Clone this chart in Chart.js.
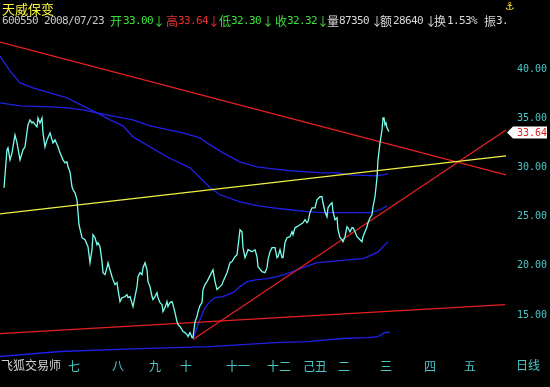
<!DOCTYPE html>
<html>
<head>
<meta charset="utf-8">
<script src="https://cdn.jsdelivr.net/npm/chart.js@4.4.1/dist/chart.umd.min.js"></script>
<style>
  body { margin: 0; background: #000; overflow: hidden; }
  #wrap { position: relative; width: 550px; height: 387px; }
  canvas { display: block; }
  .t { position: absolute; white-space: pre; line-height: 12px; font-size: 12px; font-family: 'Noto Sans CJK SC', sans-serif; }
  .n { font-family: 'DejaVu Sans Mono', monospace; font-size: 11px; letter-spacing: -0.62px; }
</style>
</head>
<body>
<div id="wrap">
  <canvas id="kChart" width="550" height="387"></canvas>
  <span class="t" style="left:2px;top:2px;font-size:13px;line-height:13px;color:#ffff40">天威保变</span>
  <span class="t n" style="left:2px;top:15px;color:#c8c8c8">600550 2008/07/23</span>
  <span class="t" style="left:110px;top:15px;color:#3ce03c">开</span>
  <span class="t n" style="left:123px;top:15px;color:#3ce03c">33.00</span>
  <span class="t" style="left:153px;top:15px;color:#3ce03c">↓</span>
  <span class="t" style="left:166px;top:15px;color:#e83030">高</span>
  <span class="t n" style="left:178px;top:15px;color:#e83030">33.64</span>
  <span class="t" style="left:208px;top:15px;color:#e83030">↓</span>
  <span class="t" style="left:219px;top:15px;color:#3ce03c">低</span>
  <span class="t n" style="left:231px;top:15px;color:#3ce03c">32.30</span>
  <span class="t" style="left:262px;top:15px;color:#3ce03c">↓</span>
  <span class="t" style="left:275px;top:15px;color:#3ce03c">收</span>
  <span class="t n" style="left:287px;top:15px;color:#3ce03c">32.32</span>
  <span class="t" style="left:317px;top:15px;color:#3ce03c">↓</span>
  <span class="t" style="left:327px;top:15px;color:#d8d8d8">量</span>
  <span class="t n" style="left:339px;top:15px;color:#d8d8d8">87350</span>
  <span class="t" style="left:371px;top:15px;color:#d8d8d8">↓</span>
  <span class="t" style="left:380px;top:15px;color:#d8d8d8">额</span>
  <span class="t n" style="left:393px;top:15px;color:#d8d8d8">28640</span>
  <span class="t" style="left:425px;top:15px;color:#d8d8d8">↓</span>
  <span class="t" style="left:434px;top:15px;color:#d8d8d8">换</span>
  <span class="t n" style="left:447px;top:15px;color:#d8d8d8">1.53%</span>
  <span class="t" style="left:484px;top:15px;color:#d8d8d8">振</span>
  <span class="t n" style="left:496px;top:15px;color:#d8d8d8">3.</span>
  <span class="t" style="left:505px;top:1px;font-size:11px;color:#ffe020;font-family:'DejaVu Sans',sans-serif">⚓</span>
  <span class="t" style="left:1px;top:359px;color:#d0d0d0">飞狐交易师</span>
  <span class="t" style="left:516px;top:359px;color:#48c8c8">日线</span>
</div>
<script>
// bar positions and closing prices
var closeX = [4,7,8,10,12,15,17,20,23,25,27,28,30,32,33,37,38,40,42,43,45,47,50,53,55,58,60,63,65,67,68,70,72,73,75,77,79,82,85,88,90,92,93,95,97,98,100,102,103,105,107,108,110,112,113,115,117,118,120,122,125,127,128,130,133,135,137,138,140,142,143,145,147,148,150,152,153,155,157,158,160,162,163,165,167,168,170,172,173,175,177,178,180,182,183,185,187,188,190,192,193,195,197,198,200,202,203,205,207,208,210,212,213,215,217,220,222,223,227,230,232,235,237,238,240,242,243,245,247,248,252,255,257,258,262,265,267,268,270,272,275,277,278,280,282,283,285,287,290,292,293,295,297,300,303,305,307,308,310,312,315,317,320,322,323,325,327,328,330,332,333,335,337,338,340,342,343,345,347,348,350,352,353,355,357,358,360,362,363,365,367,368,370,372,373,375,377,378,380,382,383,384,385,386,387,389];
var closeV = [27.93,31.79,31.99,30.77,31.48,33.31,32.49,30.77,31.79,32.09,33.61,34.32,34.83,34.52,34.62,34.12,35.03,34.52,35.03,33.51,32.09,32.80,33.51,32.49,32.80,32.09,31.48,30.77,30.47,30.57,30.06,29.55,28.03,27.73,27.42,26.71,24.18,22.86,22.66,21.95,20.32,21.64,23.16,22.86,22.15,22.35,21.95,20.43,19.31,19.11,19.82,20.32,19.61,18.90,18.60,18.09,18.30,17.59,16.37,16.77,16.88,17.08,16.77,16.88,15.86,16.88,17.89,18.90,19.31,19.11,19.82,20.32,19.61,18.40,17.89,16.88,16.57,16.88,17.28,16.77,16.27,16.06,15.35,15.76,16.37,15.86,16.27,16.37,16.06,15.25,14.34,14.04,13.83,13.53,13.33,13.22,13.02,12.82,13.22,12.72,12.72,14.34,14.85,15.35,15.96,16.27,17.59,18.09,18.40,18.60,19.01,19.41,19.61,18.40,17.59,17.89,18.09,18.40,19.31,20.32,20.43,20.93,21.14,21.95,23.67,23.47,21.85,20.83,21.34,21.64,21.44,21.64,20.93,19.92,19.41,19.31,19.82,20.63,21.44,21.85,21.85,20.83,20.93,21.64,20.83,20.83,22.35,22.86,22.96,23.47,23.16,23.87,23.98,24.18,24.38,24.69,24.38,24.48,25.40,25.90,25.90,26.71,27.02,27.02,26.41,25.50,24.99,25.90,26.21,26.41,25.50,24.69,24.89,23.67,22.86,22.66,22.45,22.96,23.98,23.87,23.47,23.87,23.87,23.47,22.96,22.86,22.66,22.45,22.96,23.47,23.98,24.38,24.89,25.19,26.00,27.02,28.95,30.77,32.49,33.81,35.03,35.03,34.32,34.52,34.02,33.64];

// moving averages (blue)
var maAX = [0,10,20,33,50,67,83,97,110,123,133,167,190,200,210,220,240,257,273,290,307,323,340,357,370,380,387];
var maAV = [41.32,39.80,38.58,38.07,37.57,37.06,36.25,35.54,34.83,34.22,33.10,31.08,29.96,28.95,27.93,27.22,26.51,26.11,25.90,25.70,25.50,25.40,25.40,25.40,25.40,25.70,26.11];
var maBX = [0,20,50,67,83,97,117,133,150,183,200,207,223,240,257,273,290,307,323,337,350,377,388];
var maBV = [36.55,36.25,36.15,36.04,35.84,35.54,35.13,34.83,34.22,33.51,33.00,32.49,31.48,30.57,30.06,29.86,29.66,29.55,29.45,29.45,29.25,29.15,29.35];
var maCX = [193,200,205,210,215,223,233,240,247,257,267,277,290,303,317,330,350,363,377,388];
var maCV = [12.62,14.54,15.76,16.37,16.77,16.88,17.28,17.89,18.40,18.60,18.70,18.90,19.31,19.82,20.32,20.43,20.63,20.73,21.34,22.45];
var maDX = [0,60,140,210,275,308,342,368,378,385,390];
var maDV = [10.79,11.30,11.60,11.80,12.21,12.31,12.62,12.72,12.82,13.23,13.23];

// trend lines: [start, end]
var redDownX = [0, 506], redDownV = [42.74, 29.25];
var redUpX = [193, 506], redUpV = [12.52, 33.81];
var yellowX = [0, 506], yellowV = [25.29, 31.18];
var redLowX = [0, 505], redLowV = [13.12, 16.06];

var monthPos = [74, 118, 155, 186, 238, 279, 315, 344, 386, 430, 470];
var monthLabels = ['七', '八', '九', '十', '十一', '十二', '己丑', '二', '三', '四', '五'];
var priceTicks = [15, 20, 25, 30, 35, 40];

function pts(xs, vs) {
  return xs.map(function(x, i) { return { x: x, y: vs[i] }; });
}

function lineSet(xs, vs, color) {
  return { data: pts(xs, vs), borderColor: color, borderWidth: 1.3, pointRadius: 0, tension: 0, fill: false };
}

var priceTag = {
  id: 'priceTag',
  afterDraw: function(chart) {
    var ctx = chart.ctx;
    var last = closeV[closeV.length - 1];
    var y = Math.round(chart.scales.y.getPixelForValue(last)) + 0.5;
    var x = chart.chartArea.right;
    ctx.save();
    ctx.fillStyle = '#ffffff';
    ctx.beginPath();
    ctx.moveTo(x - 3, y);
    ctx.lineTo(x + 3, y - 6);
    ctx.lineTo(x + 37, y - 6);
    ctx.lineTo(x + 37, y + 6);
    ctx.lineTo(x + 3, y + 6);
    ctx.closePath();
    ctx.fill();
    ctx.fillStyle = '#d82020';
    ctx.font = "10px 'DejaVu Sans Mono'";
    ctx.textBaseline = 'middle';
    ctx.fillText(last.toFixed(2), x + 7, y + 0.5);
    ctx.restore();
  }
};

var ctx = document.getElementById('kChart').getContext('2d');
var myChart = new Chart(ctx, {
  type: 'line',
  data: {
    datasets: [
      lineSet(closeX, closeV, '#78fff0'),
      lineSet(yellowX, yellowV, '#f0f040'),
      lineSet(redDownX, redDownV, '#e82020'),
      lineSet(redUpX, redUpV, '#e82020'),
      lineSet(redLowX, redLowV, '#e82020'),
      lineSet(maAX, maAV, '#2020e8'),
      lineSet(maBX, maBV, '#2020e8'),
      lineSet(maCX, maCV, '#2020e8'),
      lineSet(maDX, maDV, '#2020e8')
    ]
  },
  options: {
    responsive: false,
    animation: false,
    devicePixelRatio: 1,
    layout: { padding: { top: 30, left: 0, right: 0, bottom: 0 } },
    plugins: { legend: { display: false }, tooltip: { enabled: false } },
    scales: {
      x: {
        type: 'linear',
        min: 0,
        max: 510,
        grid: { display: false, drawTicks: false },
        border: { display: false },
        afterBuildTicks: function(scale) {
          scale.ticks = monthPos.map(function(v) { return { value: v }; });
        },
        afterFit: function(scale) { scale.height = 29; },
        ticks: {
          autoSkip: false,
          maxRotation: 0,
          padding: 1,
          color: '#48c8c8',
          font: { family: "'Noto Sans CJK SC'", size: 12 },
          callback: function(value, index) { return monthLabels[index]; }
        }
      },
      y: {
        position: 'right',
        min: 10.64,
        max: 43.96,
        grid: { display: false, drawTicks: false },
        border: { display: false },
        afterBuildTicks: function(scale) {
          scale.ticks = priceTicks.map(function(v) { return { value: v }; });
        },
        afterFit: function(scale) { scale.width = 40; },
        ticks: {
          padding: 7,
          color: '#48c8c8',
          font: { family: "'DejaVu Sans Mono'", size: 10 },
          callback: function(value) { return value.toFixed(2); }
        }
      }
    }
  },
  plugins: [priceTag]
});
</script>
</body>
</html>
